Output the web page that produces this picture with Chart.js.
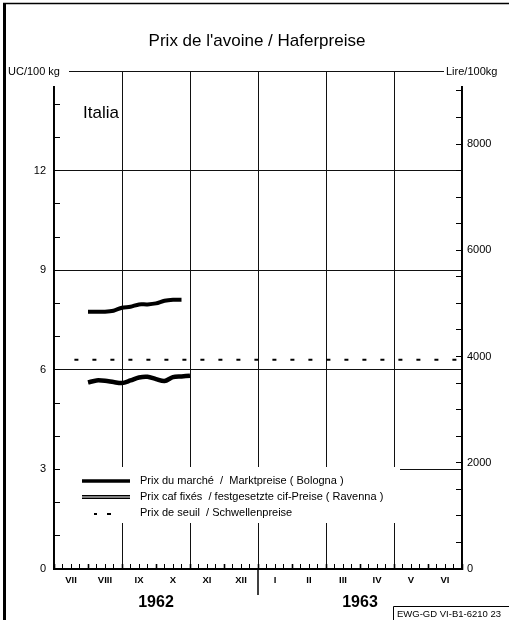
<!DOCTYPE html>
<html>
<head>
<meta charset="utf-8">
<script src="https://cdn.jsdelivr.net/npm/chart.js@4.4.1/dist/chart.umd.min.js"></script>
<style>
    html, body { margin: 0; padding: 0; background: #fff; }
    #wrap { width: 509px; height: 620px; position: relative; }
</style>
</head>
<body>
<div id="wrap"><canvas id="chart"></canvas></div>
<script>
// mois VII 1962 .. VI 1963, position en mois depuis le debut de juillet
const monthLabels = ['VII', 'VIII', 'IX', 'X', 'XI', 'XII', 'I', 'II', 'III', 'IV', 'V', 'VI']
const years = ['1962', '1963']

// Prix du marche (Bologna), UC/100 kg
const marketWeeks = [1.0, 1.25, 1.5, 1.75, 2.0, 2.25, 2.5, 2.75, 3.0, 3.25, 3.5, 3.75]
const marketPrices = [7.75, 7.75, 7.75, 7.78, 7.87, 7.9, 7.97, 7.97, 8.0, 8.08, 8.11, 8.11]

// Prix caf fixes (Ravenna)
const cifWeeks = [1.0, 1.25, 1.5, 1.75, 2.0, 2.25, 2.5, 2.75, 3.0, 3.25, 3.5, 3.75, 4.0]
const cifPrices = [5.62, 5.68, 5.67, 5.63, 5.60, 5.68, 5.77, 5.79, 5.72, 5.66, 5.78, 5.80, 5.82]

// Prix de seuil
const thresholdMonths = [0.6, 1, 2, 3, 4, 5, 6, 7, 8, 9, 10, 11, 11.9]
const thresholdPrices = [6.3, 6.3, 6.3, 6.3, 6.3, 6.3, 6.3, 6.3, 6.3, 6.3, 6.3, 6.3, 6.3]

const ucMax = 15
const lireMax = 9375   // 1 UC = 625 Lire

// graduations
const ucTicks = [0, 1, 2, 3, 4, 5, 6, 7, 8, 9, 10, 11, 12, 13, 14, 15]
const ucLabels = [0, 3, 6, 9, 12]
const lireTicks = [0, 500, 1000, 1500, 2000, 2500, 3000, 3500, 4000, 4500, 5000,
    5500, 6000, 6500, 7000, 7500, 8000, 8500, 9000]
const lireLabels = [0, 2000, 4000, 6000, 8000]
const weekTicks = Array.from({ length: 49 }, (_, i) => i / 4)

const FONT = "'Liberation Sans', 'DejaVu Sans', sans-serif"

function toPoints(xs, ys) {
    return xs.map((x, i) => ({ x: x, y: ys[i] }))
}

function setTicks(values) {
    return (scale) => { scale.ticks = values.map(v => ({ value: v })) }
}

const decor = {
    id: 'decor',
    afterDraw(chart) {
        const ctx = chart.ctx
        const x = chart.scales.x
        const area = chart.chartArea

        ctx.save()
        ctx.fillStyle = '#000'
        ctx.strokeStyle = '#000'

        // cadre de la page
        ctx.lineWidth = 3
        ctx.beginPath()
        ctx.moveTo(4.5, 3)
        ctx.lineTo(4.5, 620)
        ctx.stroke()
        ctx.lineWidth = 1.5
        ctx.beginPath()
        ctx.moveTo(3, 3.5)
        ctx.lineTo(509, 3.5)
        ctx.stroke()

        // titre
        ctx.font = '17px ' + FONT
        ctx.textAlign = 'center'
        ctx.textBaseline = 'middle'
        ctx.fillText("Prix de l'avoine / Haferpreise", 257, 41)

        // unites
        ctx.fillStyle = '#fff'
        ctx.fillRect(7, 62, 62, 24)
        ctx.fillRect(444, 62, 65, 24)
        ctx.fillStyle = '#000'
        ctx.font = '11px ' + FONT
        ctx.textAlign = 'left'
        ctx.fillText('UC/100 kg', 8, 72)
        ctx.fillText('Lire/100kg', 446, 72)

        // pays
        ctx.font = '17px ' + FONT
        ctx.fillText('Italia', 83, 113)

        // legende sur fond blanc
        ctx.fillStyle = '#fff'
        ctx.fillRect(area.left + 6, 467, 340, 56)
        ctx.fillStyle = '#000'
        ctx.lineWidth = 3.5
        ctx.beginPath()
        ctx.moveTo(82, 481)
        ctx.lineTo(130, 481)
        ctx.stroke()
        ctx.lineWidth = 4
        ctx.beginPath()
        ctx.moveTo(82, 497)
        ctx.lineTo(130, 497)
        ctx.stroke()
        ctx.strokeStyle = '#fff'
        ctx.lineWidth = 1.2
        ctx.beginPath()
        ctx.moveTo(82, 497)
        ctx.lineTo(130, 497)
        ctx.stroke()
        ctx.fillRect(94, 513, 3, 2)
        ctx.fillRect(107, 513, 4, 2)

        ctx.font = '11px ' + FONT
        ctx.fillText('Prix du marché  /  Marktpreise ( Bologna )', 140, 481)
        ctx.fillText('Prix caf fixés  / festgesetzte cif-Preise ( Ravenna )', 140, 497)
        ctx.fillText('Prix de seuil  / Schwellenpreise', 140, 513)

        // annees
        ctx.font = 'bold 16px ' + FONT
        ctx.textAlign = 'center'
        ctx.fillText(years[0], x.getPixelForValue(3), 603)
        ctx.fillText(years[1], x.getPixelForValue(9), 603)

        ctx.strokeStyle = '#000'
        ctx.lineWidth = 1.5
        ctx.beginPath()
        ctx.moveTo(x.getPixelForValue(6), area.bottom)
        ctx.lineTo(x.getPixelForValue(6), 595)
        ctx.stroke()

        // reference
        ctx.lineWidth = 1
        ctx.beginPath()
        ctx.moveTo(393.5, 620)
        ctx.lineTo(393.5, 606.5)
        ctx.lineTo(509, 606.5)
        ctx.stroke()
        ctx.font = '9.5px ' + FONT
        ctx.textAlign = 'left'
        ctx.fillText('EWG-GD VI-B1-6210 23', 397, 614)

        ctx.restore()
    }
}

new Chart(document.getElementById('chart'), {
    type: 'line',
    data: {
        datasets: [
            {
                label: 'Prix de seuil / Schwellenpreise',
                data: toPoints(thresholdMonths, thresholdPrices),
                borderColor: '#000',
                borderWidth: 2,
                borderDash: [4, 14],
                pointRadius: 0
            },
            {
                label: 'Prix du marché / Marktpreise (Bologna)',
                data: toPoints(marketWeeks, marketPrices),
                borderColor: '#000',
                borderWidth: 4,
                tension: 0.3,
                pointRadius: 0
            },
            {
                label: 'Prix caf fixés / festgesetzte cif-Preise (Ravenna)',
                data: toPoints(cifWeeks, cifPrices),
                borderColor: '#000',
                borderWidth: 4.5,
                tension: 0.3,
                pointRadius: 0
            },
            {
                label: 'cif inner',
                data: toPoints(cifWeeks, cifPrices),
                borderColor: '#fff',
                borderWidth: 1.3,
                tension: 0.3,
                pointRadius: 0
            }
        ]
    },
    options: {
        responsive: true,
        maintainAspectRatio: false,
        animation: false,
        layout: {
            padding: { top: 71, left: 4, right: 0, bottom: 0 }
        },
        plugins: {
            legend: { display: false },
            tooltip: { enabled: false }
        },
        scales: {
            x: {
                type: 'linear',
                min: 0,
                max: 12,
                afterBuildTicks: setTicks(weekTicks),
                ticks: {
                    autoSkip: false,
                    maxRotation: 0,
                    padding: 11,
                    color: '#000',
                    font: { family: FONT, size: 9.5, weight: 'bold' },
                    callback: (v) => (v % 1 === 0.5) ? monthLabels[Math.floor(v)] : ''
                },
                grid: {
                    tickLength: -5,
                    color: (c) => (c.tick && c.tick.value % 2 === 0) ? '#111' : 'rgba(0,0,0,0)',
                    tickColor: '#000',
                    tickWidth: (c) => (c.tick && c.tick.value % 1 === 0) ? 1.6 : 1,
                    lineWidth: 1
                },
                border: { color: '#000', width: 2 },
                afterFit(scale) { scale.height = 51 }
            },
            y: {
                min: 0,
                max: ucMax,
                position: 'left',
                afterBuildTicks: setTicks(ucTicks),
                ticks: {
                    autoSkip: false,
                    padding: 14,
                    color: '#000',
                    font: { family: FONT, size: 11 },
                    callback: (v) => ucLabels.includes(v) ? v : ''
                },
                grid: {
                    tickLength: -6,
                    color: (c) => (c.tick && c.tick.value % 3 === 0 && c.tick.value > 0) ? '#111' : 'rgba(0,0,0,0)',
                    tickColor: '#000',
                    lineWidth: 1
                },
                border: { color: '#000', width: 1.6 },
                afterFit(scale) { scale.width = 50 }
            },
            y2: {
                min: 0,
                max: lireMax,
                position: 'right',
                afterBuildTicks: setTicks(lireTicks),
                ticks: {
                    autoSkip: false,
                    padding: 11,
                    color: '#000',
                    font: { family: FONT, size: 11 },
                    callback: (v) => lireLabels.includes(v) ? v : ''
                },
                grid: {
                    drawOnChartArea: false,
                    tickLength: -6,
                    tickColor: '#000'
                },
                border: { color: '#000', width: 1.6 },
                afterFit(scale) { scale.width = 47 }
            }
        }
    },
    plugins: [decor]
})
</script>
</body>
</html>
